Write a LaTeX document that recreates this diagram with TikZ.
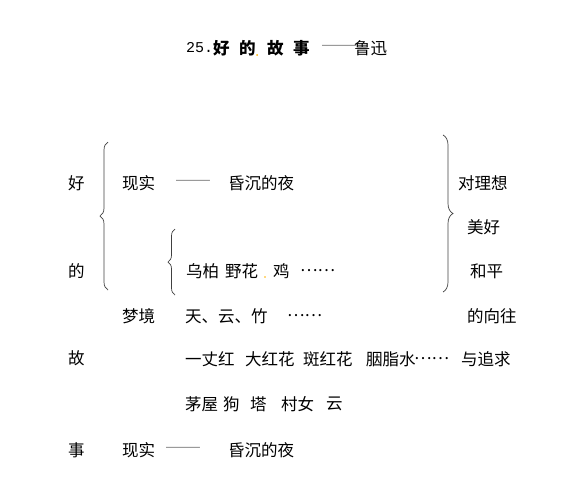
\documentclass[tikz,border=0pt]{standalone}
\usepackage{fontspec}
\setmainfont{Noto Sans CJK SC}
\newfontfamily\latinmono{Liberation Mono}
\usetikzlibrary{decorations.pathreplacing}
\newcommand{\wdash}{\scalebox{1.3}[1]{——}}
\begin{document}
\begin{tikzpicture}[x=1pt,y=-1pt,
  txt/.style={anchor=west,inner sep=0pt,font=\fontsize{16.5}{19}\selectfont},
  ttl/.style={txt,font=\fontsize{16.5}{19}\selectfont\bfseries},
  dashtxt/.style={txt,text=black!45},
  bracepath/.style={draw=black!75,line width=0.7pt,decorate,decoration={brace,amplitude=#1}}]
\useasboundingbox (0,0) rectangle (569,483);
% title
\node[txt,font=\fontsize{15}{18}\latinmono] (tnum) at (186,48) {25.};
\node[ttl] (t1) at (213,48) {好};
\node[ttl] (t2) at (239,48) {的};
\fill[orange!60!yellow] (257,55) circle (1pt);
\node[ttl] (t3) at (267,48) {故};
\node[ttl] (t4) at (293,48) {事};
\node[dashtxt] (tdash) at (321,48) {\wdash};
\node[txt] (tauth) at (354,48) {鲁迅};
% left column
\node[txt] (c1) at (68,183) {好};
\node[txt] (c2) at (68,271) {的};
\node[txt] (c3) at (68,358) {故};
\node[txt] (c4) at (68,450) {事};
% big left brace
\draw[bracepath=8] (108,290) -- (108,142);
% row 1
\node[txt] (r1a) at (122,183) {现实};
\node[dashtxt] (r1b) at (175,183) {\wdash};
\node[txt] (r1c) at (228,183) {昏沉的夜};
% small brace
\draw[bracepath=7] (175,295) -- (175,229);
% row 2
\node[txt] (r2a) at (186,271) {乌柏};
\node[txt] (r2b) at (225,271) {野花};
\fill[orange!60!yellow] (265,277) circle (0.8pt);
\node[txt] (r2c) at (273,271) {鸡};
\node[txt] (r2d) at (300,271) {……};
% row 3
\node[txt] (r3a) at (122,316) {梦境};
\node[txt] (r3b) at (185,316) {天、云、竹};
\node[txt] (r3c) at (287,316) {……};
% row 4
\node[txt] (r4a) at (185,359) {一丈红};
\node[txt] (r4b) at (245,359) {大红花};
\node[txt] (r4c) at (303,359) {斑红花};
\node[txt] (r4d) at (366,359) {胭脂水};
\node[txt] (r4f) at (414,359) {……};
\node[txt] (r4e) at (461,359) {与追求};
% row 5
\node[txt] (r5a) at (185,404) {茅屋};
\node[txt] (r5b) at (223,404) {狗};
\node[txt] (r5c) at (250,404) {塔};
\node[txt] (r5d) at (281,404) {村女};
\node[txt] (r5e) at (326,404) {云};
% row 6
\node[txt] (r6a) at (122,450) {现实};
\node[dashtxt] (r6b) at (165,450) {\wdash};
\node[txt] (r6c) at (228,450) {昏沉的夜};
% right brace
\draw[bracepath=10] (443,135) -- (443,292);
\node[txt] (p1) at (458,183) {对理想};
\node[txt] (p2) at (467,227) {美好};
\node[txt] (p3) at (470,271) {和平};
\node[txt] (p4) at (467,316) {的向往};
\end{tikzpicture}
\end{document}
